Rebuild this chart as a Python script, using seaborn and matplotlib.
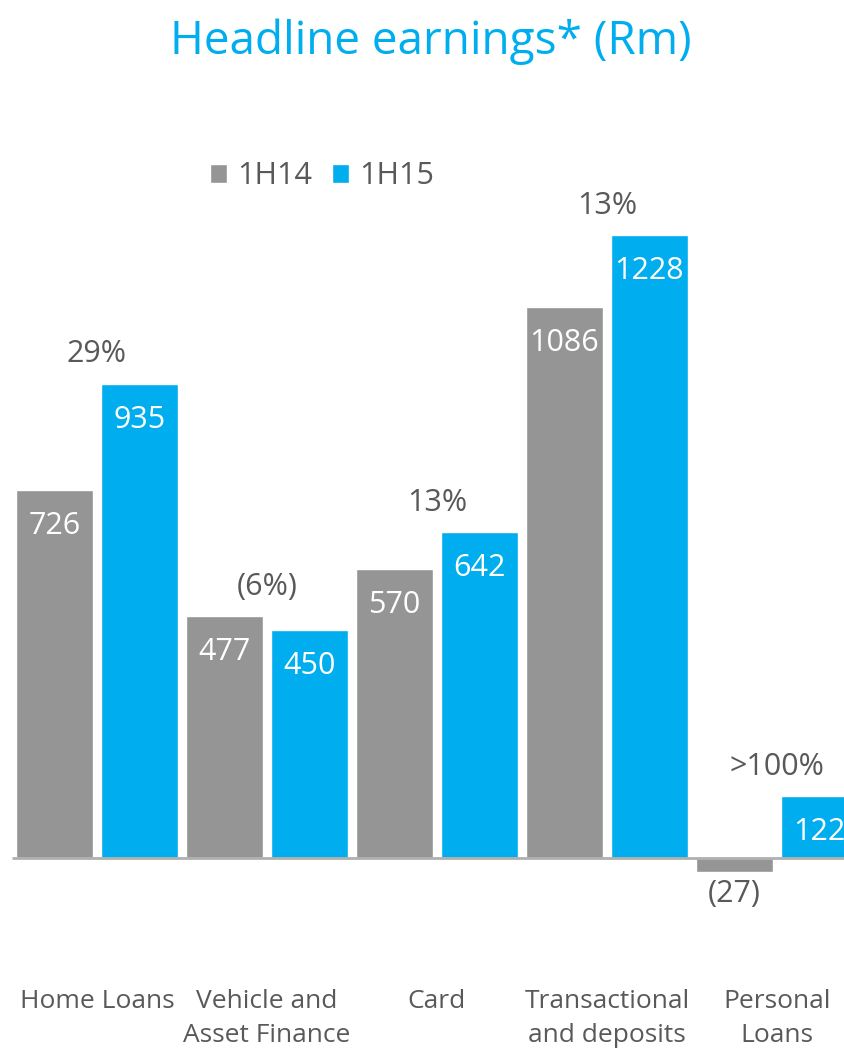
import matplotlib
matplotlib.use("Agg")
import matplotlib.pyplot as plt
import pandas as pd
import seaborn as sns

# %%
categories = ["Home Loans", "Vehicle and\nAsset Finance", "Card",
              "Transactional\nand deposits", "Personal\nLoans"]
periods = ["1H14", "1H15"]
earnings_1h14 = [726, 477, 570, 1086, -27]
earnings_1h15 = [935, 450, 642, 1228, 122]
growth = ["29%", "(6%)", "13%", "13%", ">100%"]
colors = ["#959595", "#00aeef"]

df = pd.DataFrame({
    "segment": categories * 2,
    "period": [periods[0]] * len(categories) + [periods[1]] * len(categories),
    "earnings": earnings_1h14 + earnings_1h15,
})

# %%
sns.set_style("white")
plt.rcParams["font.family"] = ["Open Sans", "DejaVu Sans"]
text_grey = "#595959"

fig = plt.figure(figsize=(8.44, 10.48), dpi=100)
ax = fig.add_axes([0, 0.0697, 1, 0.9303])
sns.barplot(data=df, x="segment", y="earnings", hue="period", order=categories,
            hue_order=periods, palette=colors, saturation=1, width=1.0, gap=0.094,
            ax=ax)

ax.set_xlim(-0.57, 4.394)
ax.set_ylim(-230.6, 1691.3)
ax.hlines(0, -0.5, 5, color="#b0b0b0", lw=2, zorder=3)
sns.despine(ax=ax, left=True, bottom=True)
ax.set_yticks([])
ax.set_xlabel("")
ax.set_ylabel("")
ax.tick_params(axis="x", length=0, pad=10, labelsize=19, labelcolor=text_grey)
plt.setp(ax.get_xticklabels(), linespacing=1.5)

# value labels
for container in ax.containers:
    for bar in container:
        val = bar.get_height() if bar.get_y() >= 0 else bar.get_y()
        cx = bar.get_x() + bar.get_width() / 2
        if val >= 0:
            ax.annotate(f"{val:.0f}", (cx, val), xytext=(0, -26), textcoords="offset points",
                        ha="center", va="center", color="white", fontsize=22, zorder=4)
        else:
            ax.annotate(f"({abs(val):.0f})", (cx, val), xytext=(0, -16), textcoords="offset points",
                        ha="center", va="center", color=text_grey, fontsize=22)

# growth labels above each group
for i, lab in enumerate(growth):
    top = max(earnings_1h14[i], earnings_1h15[i])
    ax.annotate(lab, (i, top), xytext=(0, 21), textcoords="offset points",
                ha="center", va="center", color=text_grey, fontsize=22)

leg = ax.legend(loc="center left", bbox_to_anchor=(0.249, 0.819), frameon=False, ncol=2,
                borderpad=0, borderaxespad=0, handlelength=0.56, handleheight=0.56,
                handletextpad=0.33, columnspacing=0.65, fontsize=22)
for t in leg.get_texts():
    t.set_color(text_grey)

fig.text(0.511, 0.96, "Headline earnings* (Rm)", ha="center", va="center",
         color="#00aeef", fontsize=33)

fig.savefig("out.png", dpi=100)
